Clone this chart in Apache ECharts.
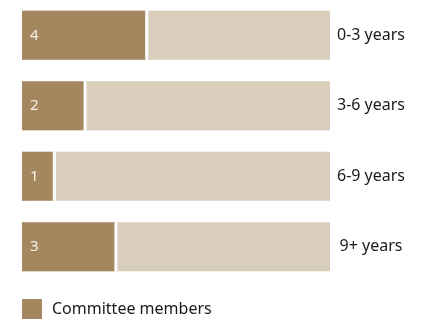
<!DOCTYPE html>
<html>
<head>
<meta charset="utf-8">
<script src="https://cdn.jsdelivr.net/npm/echarts@6/dist/echarts.min.js"></script>
<style>html,body{margin:0;padding:0;background:#fff;}#c{width:426px;height:320px;}</style>
</head>
<body>
<div id="c"></div>
<script>
var categories = ['0-3 years', '3-6 years', '6-9 years', '9+ years'];
var members = [4, 2, 1, 3];
var totals = [10, 10, 10, 10];
var seriesName = 'Committee members';

var chart = echarts.init(document.getElementById('c'), null, {renderer: 'canvas'});
chart.setOption({
  animation: false,
  backgroundColor: '#ffffff',
  textStyle: {fontFamily: 'Noto Sans'},
  grid: {left: 22, right: 96, top: -2, bottom: 38, containLabel: false},
  xAxis: {type: 'value', min: 0, max: 10, show: false},
  yAxis: {
    type: 'category', data: categories, inverse: true, position: 'right',
    axisLine: {show: false}, axisTick: {show: false}, splitLine: {show: false},
    axisLabel: {margin: 41, align: 'center', color: '#1a1a1a', fontSize: 16, fontFamily: 'Noto Sans'}
  },
  legend: {
    data: [seriesName], left: 22, top: 299, padding: 0,
    itemWidth: 20, itemHeight: 20, icon: 'rect',
    textStyle: {fontSize: 16, color: '#1a1a1a', fontFamily: 'Noto Sans', padding: [0, 0, 0, 5]}
  },
  series: [
    {
      name: 'Total', type: 'bar', data: totals, barWidth: 49,
      itemStyle: {color: '#d9cdbc'}, silent: true
    },
    {
      name: seriesName, type: 'bar', data: members, barWidth: 49, barGap: '-100%',
      itemStyle: {color: '#a5875f', shadowColor: '#ffffff', shadowOffsetX: 3, shadowBlur: 0},
      label: {show: true, position: 'insideLeft', distance: 8, color: '#f7f2ea', fontSize: 15, fontFamily: 'Noto Sans'}
    }
  ]
});
</script>
</body>
</html>
